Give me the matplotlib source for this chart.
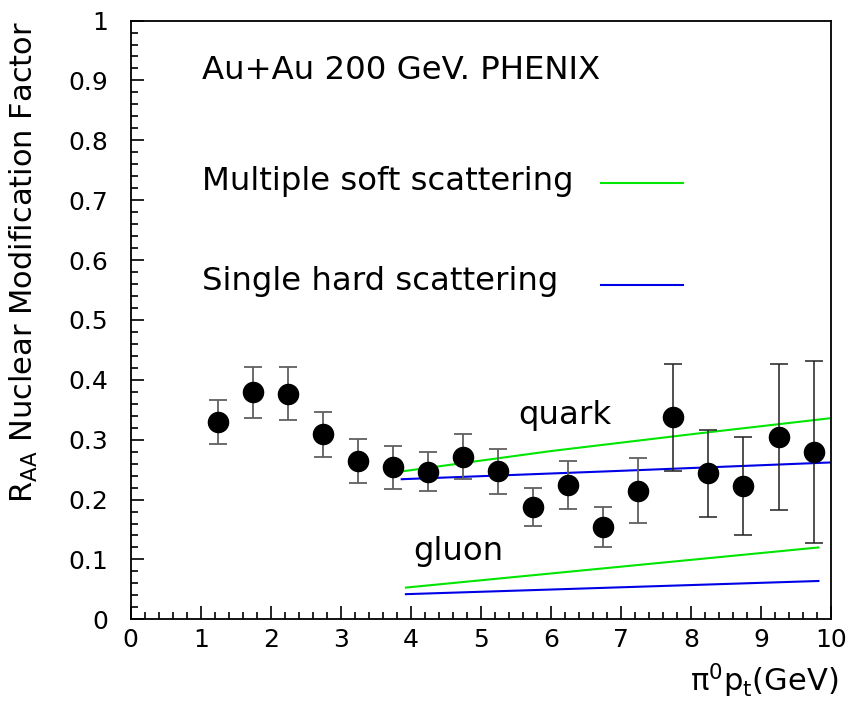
import matplotlib
matplotlib.use("Agg")
import matplotlib.pyplot as plt
import numpy as np

# Data points (PHENIX pi0 R_AA)
pt = [1.25, 1.75, 2.25, 2.75, 3.25, 3.75, 4.25, 4.75, 5.25, 5.75,
      6.25, 6.75, 7.25, 7.75, 8.25, 8.75, 9.25, 9.75]
raa = [0.329, 0.379, 0.377, 0.309, 0.265, 0.254, 0.246, 0.271, 0.247, 0.188,
       0.224, 0.155, 0.215, 0.338, 0.245, 0.223, 0.305, 0.280]
err_hi = [0.366, 0.421, 0.421, 0.347, 0.301, 0.290, 0.280, 0.309, 0.284, 0.219,
          0.264, 0.188, 0.269, 0.427, 0.317, 0.305, 0.427, 0.431]
err_lo = [0.292, 0.337, 0.333, 0.271, 0.228, 0.217, 0.214, 0.234, 0.210, 0.156,
          0.184, 0.120, 0.161, 0.247, 0.171, 0.141, 0.183, 0.127]

# Model curves
quark_soft_x = [3.87, 6.0, 8.0, 10.0]
quark_soft_y = [0.247, 0.281, 0.309, 0.336]
quark_hard_x = [3.87, 7.0, 10.0]
quark_hard_y = [0.234, 0.248, 0.262]
gluon_soft_x = [3.93, 9.82]
gluon_soft_y = [0.053, 0.120]
gluon_hard_x = [3.93, 9.82]
gluon_hard_y = [0.042, 0.064]

legend_x = [6.72, 7.88]
soft_leg_y = 0.729
hard_leg_y = 0.559

GREEN = "#00e600"
BLUE = "#0000e6"
FONT = "DejaVu Sans"

plt.rcParams['font.family'] = [FONT]
plt.rcParams['mathtext.fontset'] = 'dejavusans'

fig = plt.figure(figsize=(8.48, 7.09), dpi=100)
ax = fig.add_axes([0.1541, 0.1265, 0.98 - 0.1541, 0.971 - 0.1265])

ax.set_xlim(0, 10)
ax.set_ylim(0, 1)

# curves
ax.plot(quark_soft_x, quark_soft_y, color=GREEN, lw=1.5)
ax.plot(quark_hard_x, quark_hard_y, color=BLUE, lw=1.5)
ax.plot(gluon_soft_x, gluon_soft_y, color=GREEN, lw=1.5)
ax.plot(gluon_hard_x, gluon_hard_y, color=BLUE, lw=1.5)
ax.plot(legend_x, [soft_leg_y, soft_leg_y], color=GREEN, lw=1.5)
ax.plot(legend_x, [hard_leg_y, hard_leg_y], color=BLUE, lw=1.5)

# data
pt_a = np.array(pt)
raa_a = np.array(raa)
yerr = np.vstack([raa_a - np.array(err_lo), np.array(err_hi) - raa_a])
ncol = 13
ax.errorbar(pt_a[:ncol], raa_a[:ncol], yerr=yerr[:, :ncol], fmt='none',
            ecolor='#606060', elinewidth=1.3, capsize=6.8, capthick=1.3, zorder=3)
ax.errorbar(pt_a[ncol:], raa_a[ncol:], yerr=yerr[:, ncol:], fmt='none',
            ecolor='#202020', elinewidth=1.1, capsize=6.8, capthick=1.1, zorder=3)
ax.plot(pt_a, raa_a, 'o', color='black', ms=14.5, zorder=4)

# texts
TS = 23.3
ax.text(1.013, 0.903, "Au+Au 200 GeV. PHENIX", fontsize=TS, va='baseline', ha='left')
ax.text(1.02, 0.7175, "Multiple soft scattering", fontsize=TS, va='baseline', ha='left')
ax.text(1.02, 0.5495, "Single hard scattering", fontsize=TS, va='baseline', ha='left')
ax.text(5.53, 0.327, "quark", fontsize=TS, va='baseline', ha='left')
ax.text(4.03, 0.099, "gluon", fontsize=TS, va='baseline', ha='left')

# ticks
ax.set_xticks(np.arange(0, 11, 1))
ax.set_xticklabels([str(i) for i in range(11)])
ax.set_xticks(np.arange(0, 10.01, 0.2), minor=True)
ax.set_yticks(np.arange(0, 1.01, 0.1))
ax.set_yticklabels(["0"] + ["%.1f" % v for v in np.arange(0.1, 0.95, 0.1)] + ["1"])
ax.set_yticks(np.arange(0, 1.001, 0.02), minor=True)
ax.tick_params(which='both', direction='in', top=False, right=False, width=1.2,
               labelsize=18, color='black')
ax.tick_params(which='major', length=9.5)
ax.tick_params(which='minor', length=4.7)
ax.tick_params(axis='y', which='major', pad=16)
ax.tick_params(axis='x', which='major', pad=6)
for s in ax.spines.values():
    s.set_linewidth(1.3)

ax.set_xlabel("π$^{0}$p$_{\\mathrm{t}}$(GeV)", fontsize=22, ha='right')
ax.xaxis.set_label_coords(1.01, -0.07)
ax.set_ylabel(r"R$_{\mathrm{AA}}$ Nuclear Modification Factor", fontsize=22, ha='right')
ax.yaxis.set_label_coords(-0.13, 1.0)

fig.savefig("out.png", dpi=100)
